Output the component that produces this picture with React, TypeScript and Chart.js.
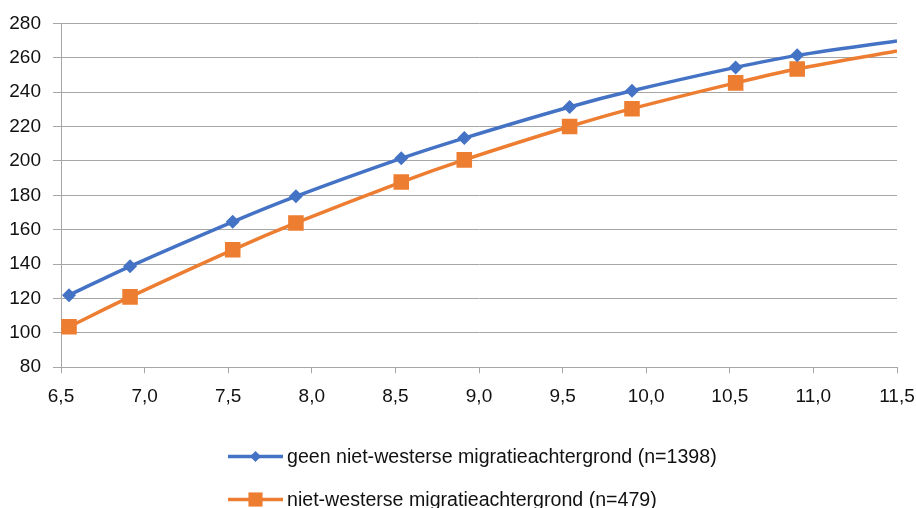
import React, { useEffect, useRef } from 'react';
import { Chart, registerables } from 'chart.js';

Chart.register(...registerables);

// Data
const xPositions = [6.548, 6.913, 7.527, 7.905, 8.535, 8.912, 9.542, 9.915, 10.535, 10.903, 11.5];
const seriesNoMigration = [121.9, 138.7, 164.6, 179.4, 201.5, 213.3, 231.4, 240.8, 254.4, 261.4, 269.8];
const seriesMigration = [103.5, 120.9, 148.3, 163.9, 187.7, 200.6, 220.0, 230.4, 245.4, 253.5, 264.0];
const seriesLabels = [
  'geen niet-westerse migratieachtergrond (n=1398)',
  'niet-westerse migratieachtergrond (n=479)',
];
const xTickValues = [6.5, 7.0, 7.5, 8.0, 8.5, 9.0, 9.5, 10.0, 10.5, 11.0, 11.5];
const yTickValues = [80, 100, 120, 140, 160, 180, 200, 220, 240, 260, 280];

const BLUE = '#4472C4';
const ORANGE = '#ED7D31';
const GRID = '#a6a6a6';
const TEXT = '#111111';
const FONT_FAMILY = '"Liberation Sans", Arial, sans-serif';
const FONT_SIZE = 19;
const LEGEND_FONT_SIZE = 19.6;

function drawMarker(ctx: CanvasRenderingContext2D, style: string, x: number, y: number, r: number, color: string) {
  ctx.save();
  ctx.fillStyle = color;
  ctx.beginPath();
  if (style === 'rectRot') {
    ctx.moveTo(x - r, y);
    ctx.lineTo(x, y - r);
    ctx.lineTo(x + r, y);
    ctx.lineTo(x, y + r);
  } else {
    const s = Math.SQRT1_2 * r;
    ctx.rect(x - s, y - s, 2 * s, 2 * s);
  }
  ctx.closePath();
  ctx.fill();
  ctx.restore();
}

const customLegend = {
  id: 'customLegend',
  afterDraw(chart: any) {
    const ctx: CanvasRenderingContext2D = chart.ctx;
    const left = 228;
    const lineLen = 55;
    const rows = [chart.height - 51.5, chart.height - 8.5];
    const markerR = [5.5, 10];
    chart.data.datasets.forEach((ds: any, i: number) => {
      const y = rows[i];
      ctx.save();
      ctx.strokeStyle = ds.borderColor;
      ctx.lineWidth = 3.5;
      ctx.beginPath();
      ctx.moveTo(left, y);
      ctx.lineTo(left + lineLen, y);
      ctx.stroke();
      drawMarker(ctx, ds.pointStyle, left + lineLen / 2, y, markerR[i], ds.borderColor);
      ctx.fillStyle = TEXT;
      ctx.font = `${LEGEND_FONT_SIZE}px ${FONT_FAMILY}`;
      ctx.textBaseline = 'middle';
      ctx.textAlign = 'left';
      ctx.fillText(ds.label, left + lineLen + 4, y + 1);
      ctx.restore();
    });
  },
};

export default function App() {
  const canvasRef = useRef<HTMLCanvasElement | null>(null);

  useEffect(() => {
    if (!canvasRef.current) return;
    const lastIdx = xPositions.length - 1;
    const chart = new Chart(canvasRef.current, {
      type: 'line',
      data: {
        datasets: [
          {
            label: seriesLabels[0],
            data: xPositions.map((x, i) => ({ x, y: seriesNoMigration[i] })),
            borderColor: BLUE,
            backgroundColor: BLUE,
            borderWidth: 3.5,
            pointStyle: 'rectRot',
            pointRadius: (c: any) => (c.dataIndex === lastIdx ? 0 : 7),
            pointBorderWidth: 0,
            tension: 0.35,
            fill: false,
          },
          {
            label: seriesLabels[1],
            data: xPositions.map((x, i) => ({ x, y: seriesMigration[i] })),
            borderColor: ORANGE,
            backgroundColor: ORANGE,
            borderWidth: 3.5,
            pointStyle: 'rect',
            pointRadius: (c: any) => (c.dataIndex === lastIdx ? 0 : 11),
            pointBorderWidth: 0,
            tension: 0.35,
            fill: false,
          },
        ],
      },
      options: {
        animation: false,
        responsive: false,
        events: [],
        layout: { padding: { left: 9, top: 20, right: 19, bottom: 88 } },
        plugins: {
          legend: { display: false },
          tooltip: { enabled: false },
        },
        scales: {
          x: {
            type: 'linear',
            min: 6.5,
            max: 11.5,
            afterBuildTicks: (scale: any) => {
              scale.ticks = xTickValues.map((v) => ({ value: v }));
            },
            afterFit: (scale: any) => {
              scale.paddingLeft = 0;
              scale.paddingRight = 0;
            },
            ticks: {
              autoSkip: false,
              maxRotation: 0,
              color: TEXT,
              padding: 12,
              font: { family: FONT_FAMILY, size: FONT_SIZE },
              callback: (v: any) => Number(v).toFixed(1).replace('.', ','),
            },
            grid: {
              drawOnChartArea: false,
              drawTicks: true,
              tickLength: 6,
              color: GRID,
              lineWidth: 1,
            },
            border: { display: true, color: GRID, width: 1 },
          },
          y: {
            type: 'linear',
            min: 80,
            max: 280,
            afterBuildTicks: (scale: any) => {
              scale.ticks = yTickValues.map((v) => ({ value: v }));
            },
            afterFit: (scale: any) => {
              scale.width = 52;
            },
            ticks: {
              color: TEXT,
              padding: 12,
              font: { family: FONT_FAMILY, size: FONT_SIZE },
            },
            grid: {
              color: GRID,
              lineWidth: 1,
              tickLength: 8,
            },
            border: { display: true, color: GRID, width: 1 },
          },
        },
      },
      plugins: [customLegend],
    });
    return () => chart.destroy();
  }, []);

  return (
    <div style={{ position: 'fixed', left: 0, top: 0, width: 916, height: 508, background: '#ffffff' }}>
      <canvas ref={canvasRef} width={916} height={508} />
    </div>
  );
}
